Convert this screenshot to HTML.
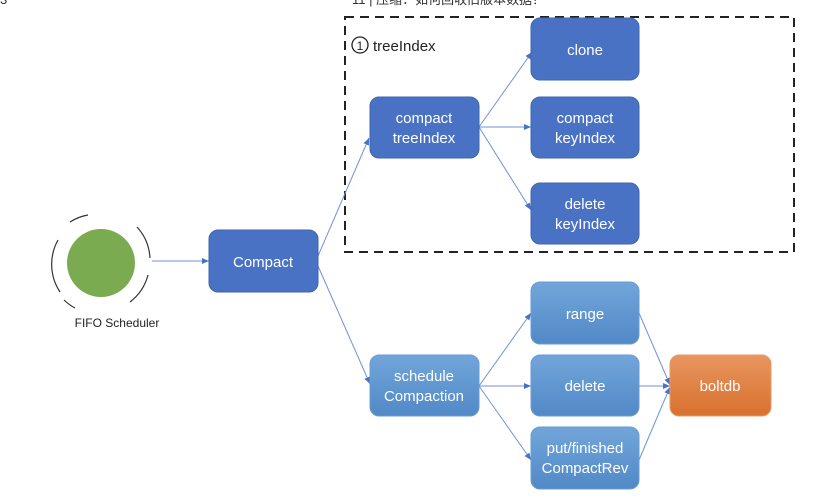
<!DOCTYPE html>
<html><head><meta charset="utf-8"><style>
html,body{margin:0;padding:0;background:#fff;}
svg{display:block;}
text{font-family:"Liberation Sans","Noto Sans CJK SC",sans-serif;}
</style></head><body>
<svg width="815" height="501" viewBox="0 0 815 501" xmlns="http://www.w3.org/2000/svg">
<defs>
<linearGradient id="lb" x1="0" y1="0" x2="0" y2="1"><stop offset="0" stop-color="#72a6da"/><stop offset="1" stop-color="#5189c7"/></linearGradient>
<linearGradient id="or" x1="0" y1="0" x2="0" y2="1"><stop offset="0" stop-color="#e89660"/><stop offset="1" stop-color="#d9702e"/></linearGradient>
<marker id="a" markerWidth="8" markerHeight="8" refX="7" refY="4" orient="auto" markerUnits="userSpaceOnUse"><path d="M0,1 L7,4 L0,7 z" fill="#4a72c4"/></marker>
</defs>
<text x="352" y="4" font-size="13" fill="#333">11 | 压缩：如何回收旧版本数据？</text>
<text x="0" y="4" font-size="13" fill="#333">3</text>
<rect x="345" y="17" width="449" height="235" fill="none" stroke="#222" stroke-width="2" stroke-dasharray="9,6"/>
<circle cx="360" cy="45" r="8" fill="none" stroke="#222" stroke-width="1.3"/>
<text x="360" y="50" font-size="12" text-anchor="middle" fill="#222">1</text>
<text x="373" y="51" font-size="15" fill="#222">treeIndex</text>
<!-- circle -->
<circle cx="101" cy="263" r="34" fill="#7aab50"/>
<g fill="none" stroke="#333" stroke-width="1.2">
<path d="M58,240 A50,50 0 0 0 60,292"/>
<path d="M70,222 A48,48 0 0 1 88,215"/>
<path d="M137,227 A50,50 0 0 1 150,258"/>
<path d="M148,275 A50,50 0 0 1 130,302"/>
<path d="M64,300 A50,50 0 0 0 75,308"/>
</g>
<text x="117" y="327" font-size="12" text-anchor="middle" fill="#222">FIFO Scheduler</text>
<!-- lines -->
<g stroke="#6f93d6" stroke-width="1" fill="none" marker-end="url(#a)">
<line x1="152" y1="261" x2="209" y2="261"/>
<line x1="318" y1="256" x2="369" y2="138"/>
<line x1="318" y1="266" x2="370" y2="384"/>
<line x1="479" y1="127" x2="532" y2="52"/>
<line x1="479" y1="127" x2="531" y2="127"/>
<line x1="479" y1="127" x2="531" y2="210"/>
<line x1="479" y1="386" x2="531" y2="313"/>
<line x1="479" y1="386" x2="531" y2="386"/>
<line x1="479" y1="386" x2="531" y2="460"/>
<line x1="639" y1="313" x2="670" y2="385"/>
<line x1="639" y1="386" x2="670" y2="386"/>
<line x1="639" y1="460" x2="670" y2="387"/>
</g>
<!-- boxes -->
<g stroke="#3f66ad" stroke-width="1">
<rect x="209" y="230" width="109" height="62" rx="9" fill="#4a72c4"/>
<rect x="370" y="97" width="109" height="61" rx="9" fill="#4a72c4"/>
<rect x="531" y="18" width="108" height="62" rx="9" fill="#4a72c4"/>
<rect x="531" y="97" width="108" height="61" rx="9" fill="#4a72c4"/>
<rect x="531" y="183" width="108" height="61" rx="9" fill="#4a72c4"/>
</g>
<g stroke="#6a9bd4" stroke-width="1">
<rect x="370" y="355" width="109" height="61" rx="9" fill="url(#lb)"/>
<rect x="531" y="282" width="108" height="62" rx="9" fill="url(#lb)"/>
<rect x="531" y="355" width="108" height="61" rx="9" fill="url(#lb)"/>
<rect x="531" y="427" width="108" height="62" rx="9" fill="url(#lb)"/>
</g>
<rect x="670" y="355" width="101" height="61" rx="9" fill="url(#or)" stroke="#e59a6a"/>
<g fill="#fff" font-size="15" text-anchor="middle">
<text x="263" y="267">Compact</text>
<text x="424" y="123">compact</text><text x="424" y="143">treeIndex</text>
<text x="585" y="55">clone</text>
<text x="585" y="123">compact</text><text x="585" y="143">keyIndex</text>
<text x="585" y="209">delete</text><text x="585" y="229">keyIndex</text>
<text x="424" y="381">schedule</text><text x="424" y="401">Compaction</text>
<text x="585" y="319">range</text>
<text x="585" y="391">delete</text>
<text x="585" y="453">put/finished</text><text x="585" y="473">CompactRev</text>
<text x="720" y="391">boltdb</text>
</g>
</svg>
</body></html>
